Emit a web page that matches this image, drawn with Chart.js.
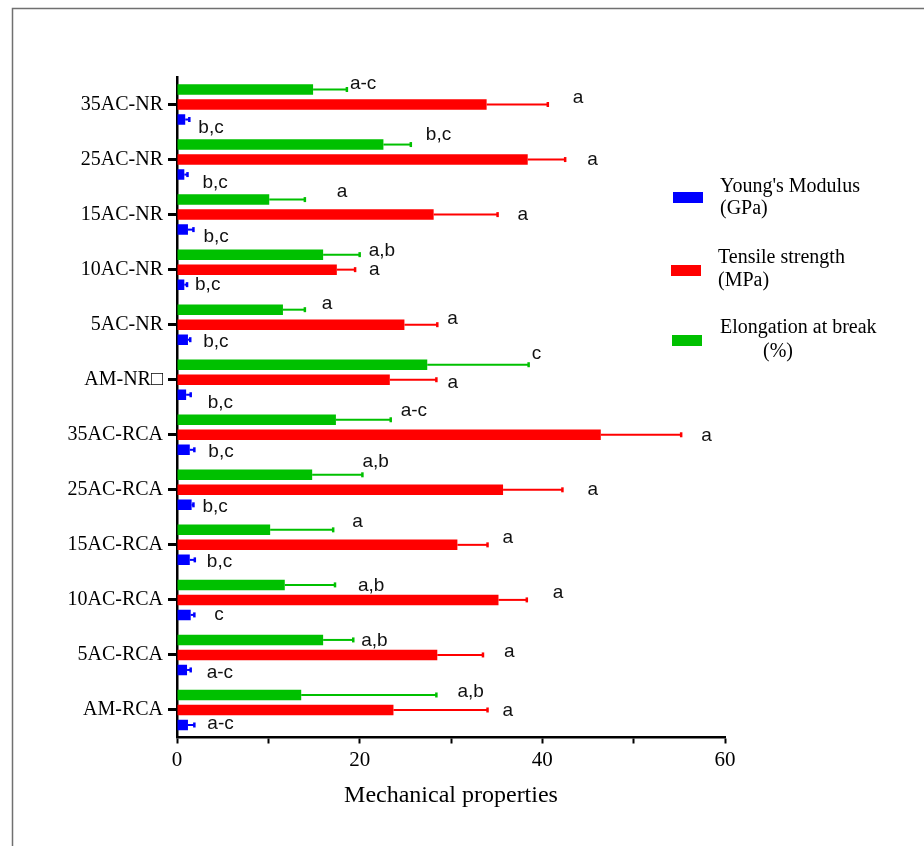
<!DOCTYPE html>
<html>
<head>
<meta charset="utf-8">
<script src="https://cdn.jsdelivr.net/npm/chart.js@4/dist/chart.umd.min.js"></script>
<style>
  html, body { margin: 0; padding: 0; background: #fff; }
  canvas { display: block; }
</style>
</head>
<body>
<canvas id="chart" width="924" height="846"></canvas>
<script>
// Samples, listed top to bottom
const categories = ['35AC-NR', '25AC-NR', '15AC-NR', '10AC-NR', '5AC-NR', 'AM-NR\u25A1',
  '35AC-RCA', '25AC-RCA', '15AC-RCA', '10AC-RCA', '5AC-RCA', 'AM-RCA'];

// Elongation at break (%)
const elongation    = [14.9, 22.6, 10.1, 16.0, 11.6, 27.4, 17.4, 14.8, 10.2, 11.8, 16.0, 13.6];
const elongationErr = [3.7, 3.0, 3.9, 4.0, 2.4, 11.1, 6.0, 5.5, 6.9, 5.5, 3.3, 14.8];
const elongationGroups = ['a-c', 'b,c', 'a', 'a,b', 'a', 'c', 'a-c', 'a,b', 'a', 'a,b', 'a,b', 'a,b'];

// Tensile strength (MPa)
const tensile    = [33.9, 38.4, 28.1, 17.5, 24.9, 23.3, 46.4, 35.7, 30.7, 35.2, 28.5, 23.7];
const tensileErr = [6.7, 4.1, 7.0, 2.0, 3.6, 5.1, 8.8, 6.5, 3.3, 3.1, 5.0, 10.3];
const tensileGroups = ['a', 'a', 'a', 'a', 'a', 'a', 'a', 'a', 'a', 'a', 'a', 'a'];

// Young's modulus (GPa)
const modulus    = [0.9, 0.8, 1.2, 0.8, 1.2, 1.0, 1.4, 1.6, 1.4, 1.5, 1.1, 1.2];
const modulusErr = [0.45, 0.35, 0.6, 0.3, 0.25, 0.5, 0.5, 0.2, 0.55, 0.4, 0.4, 0.7];
const modulusGroups = ['b,c', 'b,c', 'b,c', 'b,c', 'b,c', 'b,c', 'b,c', 'b,c', 'b,c', 'c', 'a-c', 'a-c'];

// Axis ticks
const xTicks = [0, 20, 40, 60];

// Colours
const BLUE = '#0000ff', RED = '#ff0000', GREEN = '#00c000';
const SERIF = "'Liberation Serif', 'Times New Roman', serif";
const SANS = "'Liberation Sans', Arial, sans-serif";

// Pixel nudges for the significance letters, measured from each error-bar tip
const letterNudge = [
  { dx: [3, 15, 32, 9, 17, 3, 10, 0, 19, 23, 8, 21], dy: [-6, -10, -8, -4, -6, -11, -9, -13, -8, 1, 1, -3] },
  { dx: [25, 22, 20, 14, 10, 11, 20, 25, 15, 26, 21, 15], dy: [-7, 0, 0, 0, -6, 3, 1, 0, -7, -7, -3, 1] },
  { dx: [9, 15, 10, 8, 13, 17, 14, 9, 12, 20, 16, 13], dy: [8, 8, 7, 0, 2, 8, 2, 2, 2, 0, 3, -1] }
];

const errors = [elongationErr, tensileErr, modulusErr];
const groups = [elongationGroups, tensileGroups, modulusGroups];

const legendItems = [
  { color: BLUE,  lines: ["Young's Modulus", '(GPa)'], box: [673, 192], text: [[720, 187], [720, 209]] },
  { color: RED,   lines: ['Tensile strength', '(MPa)'], box: [671, 265], text: [[718, 258], [718, 281]] },
  { color: GREEN, lines: ['Elongation at break', '(%)'], box: [672, 335], text: [[720, 328], [763, 352]] }
];

const pagePlugin = {
  id: 'page',
  beforeDraw(chart) {
    const ctx = chart.ctx;
    ctx.save();
    ctx.fillStyle = '#fff';
    ctx.fillRect(0, 0, chart.width, chart.height);
    // thin frame along the top and left edges
    ctx.strokeStyle = '#707070';
    ctx.lineWidth = 1.5;
    ctx.beginPath();
    ctx.moveTo(12.5, chart.height);
    ctx.lineTo(12.5, 8.5);
    ctx.lineTo(chart.width, 8.5);
    ctx.stroke();
    ctx.restore();
  },
  afterDraw(chart) {
    const ctx = chart.ctx;
    const area = chart.chartArea;
    ctx.save();
    // axis title
    ctx.fillStyle = '#000';
    ctx.font = '24px ' + SERIF;
    ctx.textAlign = 'center';
    ctx.textBaseline = 'middle';
    ctx.fillText('Mechanical properties', (area.left + area.right) / 2, 796);
    // legend
    ctx.font = '20px ' + SERIF;
    ctx.textAlign = 'left';
    legendItems.forEach(item => {
      ctx.fillStyle = item.color;
      ctx.fillRect(item.box[0], item.box[1], 30, 11);
      ctx.fillStyle = '#000';
      item.lines.forEach((line, k) => ctx.fillText(line, item.text[k][0], item.text[k][1]));
    });
    ctx.restore();
  }
};

const errorBarPlugin = {
  id: 'errorBars',
  afterDatasetsDraw(chart) {
    const ctx = chart.ctx;
    const xScale = chart.scales.x;
    ctx.save();
    chart.data.datasets.forEach((ds, di) => {
      const meta = chart.getDatasetMeta(di);
      meta.data.forEach((bar, i) => {
        const tip = xScale.getPixelForValue(ds.data[i] + errors[di][i]);
        ctx.strokeStyle = ds.backgroundColor;
        ctx.lineWidth = 2;
        ctx.beginPath();
        ctx.moveTo(bar.x, bar.y);
        ctx.lineTo(tip, bar.y);
        ctx.stroke();
        ctx.lineWidth = 2.5;
        ctx.beginPath();
        ctx.moveTo(tip, bar.y - 2.5);
        ctx.lineTo(tip, bar.y + 2.5);
        ctx.stroke();
        // significance letters
        ctx.fillStyle = '#111';
        ctx.font = '19px ' + SANS;
        ctx.textAlign = 'left';
        ctx.textBaseline = 'middle';
        ctx.fillText(groups[di][i], tip + letterNudge[di].dx[i], bar.y + letterNudge[di].dy[i]);
      });
    });
    ctx.restore();
  }
};

new Chart(document.getElementById('chart'), {
  type: 'bar',
  data: {
    labels: categories,
    datasets: [
      { label: 'Elongation at break (%)', data: elongation, backgroundColor: GREEN },
      { label: 'Tensile strength (MPa)', data: tensile, backgroundColor: RED },
      { label: "Young's Modulus (GPa)", data: modulus, backgroundColor: BLUE }
    ]
  },
  options: {
    indexAxis: 'y',
    responsive: false,
    devicePixelRatio: 1,
    animation: false,
    categoryPercentage: 0.818,
    barPercentage: 0.7,
    layout: { padding: { top: 77, right: 199, bottom: 0, left: 0 } },
    plugins: {
      legend: { display: false },
      tooltip: { enabled: false }
    },
    scales: {
      x: {
        min: 0,
        max: 60,
        afterFit(scale) { scale.height = 108.5; },
        ticks: {
          stepSize: 10,
          color: '#000',
          padding: 4,
          font: { family: SERIF, size: 21 },
          callback: v => (xTicks.includes(v) ? String(v) : '')
        },
        grid: { drawOnChartArea: false, drawTicks: true, tickLength: 6, tickWidth: 2, tickColor: '#000' },
        border: { display: true, color: '#000', width: 2.5 }
      },
      y: {
        afterFit(scale) { scale.width = 177; },
        ticks: {
          color: '#000',
          padding: 5,
          font: { family: SERIF, size: 20 }
        },
        grid: { offset: false, drawOnChartArea: false, drawTicks: true, tickLength: 9, tickWidth: 3, tickColor: '#000' },
        border: { display: true, color: '#000', width: 2.5 }
      }
    }
  },
  plugins: [pagePlugin, errorBarPlugin]
});
</script>
</body>
</html>
